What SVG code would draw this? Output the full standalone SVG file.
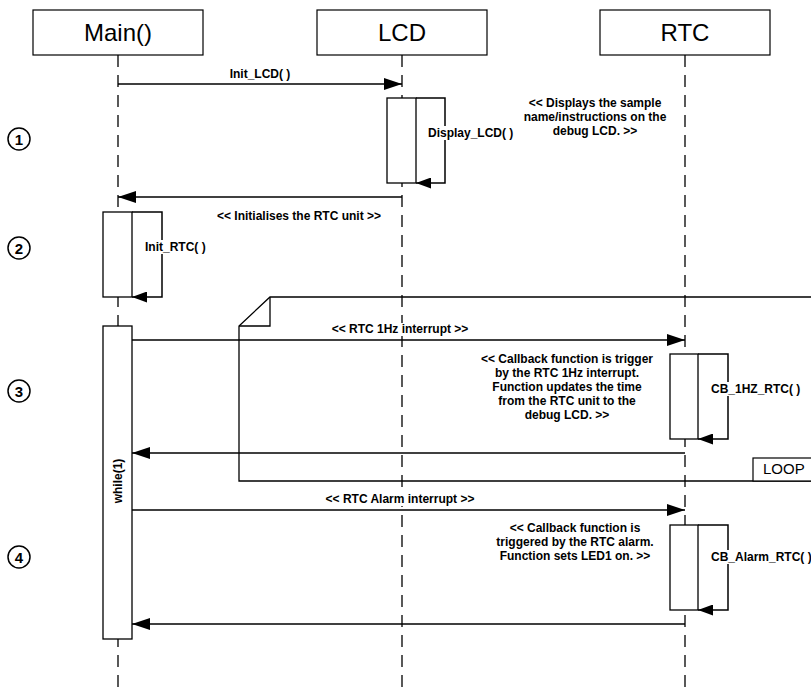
<svg xmlns="http://www.w3.org/2000/svg" width="811" height="693" viewBox="0 0 811 693">
<style>
.box{fill:#fff;stroke:#000;stroke-width:1.2}
.hdr{font-family:"Liberation Sans",Arial,sans-serif;font-size:24px;fill:#000;text-anchor:middle}
.life{stroke:#000;stroke-width:1.3;stroke-dasharray:12 8;fill:none}
.act{fill:#fff;stroke:#000;stroke-width:1.3}
.msg{stroke:#000;stroke-width:1.5;fill:none}
.lbl{font-family:"Liberation Sans",Arial,sans-serif;font-size:12px;font-weight:bold;fill:#000}
.mid{text-anchor:middle}
.bg{fill:#fff;stroke:none}
.num{font-family:"Liberation Sans",Arial,sans-serif;font-size:15px;font-weight:bold;text-anchor:middle;fill:#000}
.circ{fill:#fff;stroke:#000;stroke-width:1.5}
</style>
<defs>
<marker id="ah" markerUnits="userSpaceOnUse" markerWidth="18" markerHeight="12" refX="18" refY="6" orient="auto"><path d="M0,0 L18,6 L0,12 z" fill="#000"/></marker>
<marker id="ahs" markerUnits="userSpaceOnUse" markerWidth="15" markerHeight="11" refX="15" refY="5.5" orient="auto"><path d="M0,0 L15,5.5 L0,11 z" fill="#000"/></marker>
</defs>
<rect width="811" height="693" fill="#fff"/>

<g id="lifelines">
<line class="life" x1="118" y1="55" x2="118" y2="693"/>
<line class="life" x1="402" y1="55" x2="402" y2="693"/>
<line class="life" x1="685" y1="55" x2="685" y2="693"/>
</g>

<g id="node-main"><rect class="box" x="33" y="10" width="170" height="45"/><text class="hdr" x="118" y="41">Main()</text></g>
<g id="node-lcd"><rect class="box" x="317" y="10" width="170" height="45"/><text class="hdr" x="402" y="41">LCD</text></g>
<g id="node-rtc"><rect class="box" x="600" y="10" width="170" height="45"/><text class="hdr" x="685" y="41">RTC</text></g>

<g id="loop-frame">
<path d="M811,297 L270,297 L239,326 L239,481 L811,481" fill="none" stroke="#000" stroke-width="1.3"/>
<path d="M270,297 L270,326 L239,326" fill="none" stroke="#000" stroke-width="1.3"/>
<rect x="753" y="458" width="70" height="23" fill="#fff" stroke="#000" stroke-width="1.2"/>
<text x="763" y="474" font-family="Liberation Sans, Arial, sans-serif" font-size="15">LOOP</text>
</g>

<g id="activations">
<rect class="act" x="387" y="98" width="29" height="85"/>
<rect class="act" x="103" y="212" width="29" height="85"/>
<rect class="act" x="103" y="326" width="29" height="313"/>
<rect class="act" x="670" y="354" width="28" height="85"/>
<rect class="act" x="670" y="525" width="28" height="85"/>
<text class="lbl mid" transform="translate(122 481) rotate(-90)">while(1)</text>
</g>

<g id="connectors">
<line class="msg" x1="118" y1="84" x2="402" y2="84" marker-end="url(#ah)"/>
<path class="msg" d="M416,98 H445 V183 H416" marker-end="url(#ahs)"/>
<line class="msg" x1="402" y1="197" x2="118" y2="197" marker-end="url(#ah)"/>
<path class="msg" d="M132,212 H162 V297 H132" marker-end="url(#ahs)"/>
<line class="msg" x1="132" y1="340" x2="685" y2="340" marker-end="url(#ah)"/>
<path class="msg" d="M698,354 H728 V439 H698" marker-end="url(#ahs)"/>
<line class="msg" x1="685" y1="453" x2="132" y2="453" marker-end="url(#ah)"/>
<line class="msg" x1="132" y1="510" x2="685" y2="510" marker-end="url(#ah)"/>
<path class="msg" d="M698,525 H728 V610 H698" marker-end="url(#ahs)"/>
<line class="msg" x1="685" y1="624" x2="132" y2="624" marker-end="url(#ah)"/>
</g>

<g id="labels">
<text class="lbl mid" x="260" y="78">Init_LCD( )</text>
<rect class="bg" x="426" y="126" width="91" height="14"/>
<text class="lbl" x="428" y="137">Display_LCD( )</text>
<text class="lbl mid" x="595" y="107">&lt;&lt; Displays the sample</text>
<text class="lbl mid" x="595" y="121">name/instructions on the</text>
<text class="lbl mid" x="595" y="135">debug LCD. &gt;&gt;</text>
<text class="lbl mid" x="299" y="220">&lt;&lt; Initialises the RTC unit &gt;&gt;</text>
<rect class="bg" x="143" y="240" width="66" height="14"/>
<text class="lbl" x="145" y="251">Init_RTC( )</text>
<rect class="bg" x="322" y="323" width="158" height="13"/>
<text class="lbl mid" x="400" y="333">&lt;&lt; RTC 1Hz interrupt &gt;&gt;</text>
<text class="lbl mid" x="567" y="363">&lt;&lt; Callback function is trigger</text>
<text class="lbl mid" x="567" y="377">by the RTC 1Hz interrupt.</text>
<text class="lbl mid" x="567" y="391">Function updates the time</text>
<text class="lbl mid" x="567" y="405">from the RTC unit to the</text>
<text class="lbl mid" x="567" y="419">debug LCD. &gt;&gt;</text>
<rect class="bg" x="709" y="382" width="92" height="14"/>
<text class="lbl" x="711" y="393">CB_1HZ_RTC( )</text>
<rect class="bg" x="300" y="493" width="200" height="13"/>
<text class="lbl mid" x="400" y="503">&lt;&lt; RTC Alarm interrupt &gt;&gt;</text>
<text class="lbl mid" x="575" y="532">&lt;&lt; Callback function is</text>
<text class="lbl mid" x="575" y="546">triggered by the RTC alarm.</text>
<text class="lbl mid" x="575" y="560">Function sets LED1 on. &gt;&gt;</text>
<rect class="bg" x="709" y="550" width="102" height="14"/>
<text class="lbl" x="711" y="561">CB_Alarm_RTC( )</text>
</g>

<g id="steps">
<g id="step1"><circle class="circ" cx="19" cy="139" r="11"/><text class="num" x="19" y="144.5">1</text></g>
<g id="step2"><circle class="circ" cx="19" cy="248" r="11"/><text class="num" x="19" y="253.5">2</text></g>
<g id="step3"><circle class="circ" cx="19" cy="391" r="11"/><text class="num" x="19" y="396.5">3</text></g>
<g id="step4"><circle class="circ" cx="19" cy="557" r="11"/><text class="num" x="19" y="562.5">4</text></g>
</g>
</svg>
